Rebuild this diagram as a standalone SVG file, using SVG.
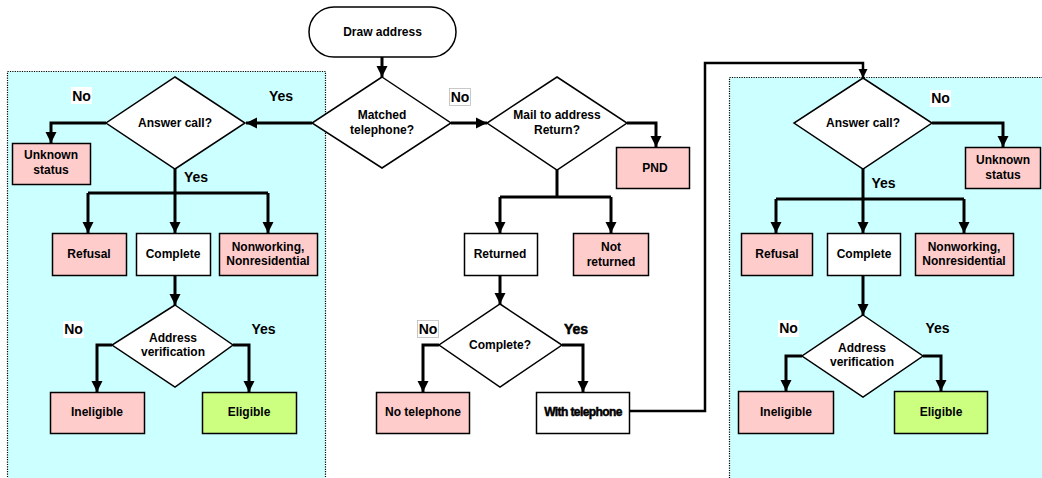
<svg xmlns="http://www.w3.org/2000/svg" width="1042" height="478" viewBox="0 0 1042 478">
<defs>
<marker id="arr" viewBox="0 0 10 10" refX="10" refY="5" markerWidth="3.8" markerHeight="3.8" orient="auto" markerUnits="strokeWidth">
<path d="M0,0 L10,5 L0,10 z" fill="#000"/>
</marker>
<style>
.panel{fill:#ccffff;stroke:#000;stroke-width:1.2;stroke-dasharray:1.2 1.2}
.box{stroke:#000;stroke-width:1.5}
.pink{fill:#ffcccc}
.white{fill:#fff}
.green{fill:#ccff80}
.dia{fill:#fff;stroke:#000;stroke-width:1.5}
.t{font-family:"Liberation Sans",Arial,sans-serif;font-size:12px;font-weight:bold;fill:#000;text-anchor:middle}
.lbl{font-family:"Liberation Sans",Arial,sans-serif;font-size:14px;font-weight:bold;fill:#000;text-anchor:middle}
.c{fill:none;stroke:#000;stroke-width:3}
.ca{fill:none;stroke:#000;stroke-width:3;marker-end:url(#arr)}
.lblbg{fill:#fff}
.lblbox{fill:#fff;stroke:#bbb;stroke-width:0.8}
</style>
</defs>

<rect class="panel" x="7.5" y="71.5" width="318" height="420"/>
<rect class="panel" x="729.5" y="77.5" width="330" height="420"/>

<g id="connectors">
<line class="ca" x1="382" y1="57" x2="382" y2="77"/>
<line class="ca" x1="312" y1="123" x2="246" y2="123"/>
<line class="ca" x1="451" y1="123" x2="487" y2="123"/>
<polyline class="ca" points="106,123 51,123 51,143"/>
<line class="c" x1="175" y1="169" x2="175" y2="193"/>
<polyline class="ca" points="88,193 88,233"/>
<line class="c" x1="88" y1="193" x2="268" y2="193"/>
<line class="ca" x1="175" y1="193" x2="175" y2="233"/>
<line class="ca" x1="268" y1="193" x2="268" y2="233"/>
<line class="ca" x1="175" y1="275" x2="175" y2="305"/>
<polyline class="ca" points="112,345 97,345 97,392"/>
<polyline class="ca" points="233,345 249,345 249,392"/>

<polyline class="ca" points="627,123 656,123 656,147"/>
<line class="c" x1="557" y1="170" x2="557" y2="197"/>
<line class="c" x1="500" y1="197" x2="611" y2="197"/>
<line class="ca" x1="500" y1="197" x2="500" y2="233"/>
<line class="ca" x1="611" y1="197" x2="611" y2="233"/>
<line class="ca" x1="500" y1="276" x2="500" y2="304"/>
<polyline class="ca" points="439,345 423,345 423,392"/>
<polyline class="ca" points="562,345 583,345 583,392"/>
<polyline class="ca" points="629,411 705,411 705,63 863,63 863,78" style="stroke-width:2.5"/>

<polyline class="ca" points="932,123 1003,123 1003,147"/>
<line class="c" x1="863" y1="169" x2="863" y2="199"/>
<line class="c" x1="776" y1="199" x2="964" y2="199"/>
<line class="ca" x1="776" y1="199" x2="776" y2="233"/>
<line class="ca" x1="863" y1="199" x2="863" y2="233"/>
<line class="ca" x1="964" y1="199" x2="964" y2="233"/>
<line class="ca" x1="863" y1="275" x2="863" y2="315"/>
<polyline class="ca" points="802,356 786,356 786,391"/>
<polyline class="ca" points="923,356 941,356 941,391"/>
</g>

<g id="draw-address">
<rect x="309" y="7" width="147" height="50" rx="25" ry="25" fill="#fff" stroke="#000" stroke-width="1.5"/>
<text class="t" x="382.5" y="36">Draw address</text>
</g>
<g id="matched-telephone">
<polygon class="dia" points="382,77 451,123 382,168 312,123"/>
<text class="t" x="382" y="119">Matched</text>
<text class="t" x="382" y="134">telephone?</text>
</g>
<g id="mail-return">
<polygon class="dia" points="557,77 627,123 557,170 487,123"/>
<text class="t" x="557" y="119">Mail to address</text>
<text class="t" x="557" y="134">Return?</text>
</g>
<g id="pnd">
<rect class="box pink" x="616.5" y="147.5" width="73" height="41"/>
<text class="t" x="655" y="172">PND</text>
</g>
<g id="returned">
<rect class="box white" x="464.5" y="233.5" width="73" height="42"/>
<text class="t" x="500" y="258">Returned</text>
</g>
<g id="not-returned">
<rect class="box pink" x="573.5" y="233.5" width="75" height="42"/>
<text class="t" x="611" y="251">Not</text>
<text class="t" x="611" y="266">returned</text>
</g>
<g id="complete-q">
<polygon class="dia" points="500,304 562,345 500,387 439,345"/>
<text class="t" x="500" y="349">Complete?</text>
</g>
<g id="no-telephone">
<rect class="box pink" x="376.5" y="392.5" width="93" height="41"/>
<text class="t" x="423" y="416">No telephone</text>
</g>
<g id="with-telephone">
<rect class="box white" x="536.5" y="392.5" width="93" height="41"/>
<text class="t" x="583" y="416" style="letter-spacing:-0.6px;stroke:#000;stroke-width:0.5">With telephone</text>
</g>

<g id="l-answer">
<polygon class="dia" points="175,77 245,123 175,169 106,123"/>
<text class="t" x="175" y="127">Answer call?</text>
</g>
<g id="l-unknown">
<rect class="box pink" x="12.5" y="143.5" width="78" height="41"/>
<text class="t" x="51" y="159">Unknown</text>
<text class="t" x="51" y="174">status</text>
</g>
<g id="l-refusal">
<rect class="box pink" x="52.5" y="233.5" width="74" height="42"/>
<text class="t" x="89" y="258">Refusal</text>
</g>
<g id="l-complete">
<rect class="box white" x="136.5" y="233.5" width="74" height="42"/>
<text class="t" x="173" y="258">Complete</text>
</g>
<g id="l-nonworking">
<rect class="box pink" x="219.5" y="233.5" width="98" height="42"/>
<text class="t" x="268" y="251">Nonworking,</text>
<text class="t" x="268" y="265">Nonresidential</text>
</g>
<g id="l-verify">
<polygon class="dia" points="175,305 233,345 175,387 112,345"/>
<text class="t" x="173" y="342">Address</text>
<text class="t" x="173" y="356">verification</text>
</g>
<g id="l-ineligible">
<rect class="box pink" x="50.5" y="392.5" width="94" height="41"/>
<text class="t" x="97" y="416">Ineligible</text>
</g>
<g id="l-eligible">
<rect class="box green" x="202.5" y="392.5" width="94" height="41"/>
<text class="t" x="249" y="416">Eligible</text>
</g>

<g id="r-answer">
<polygon class="dia" points="863,78 932,123 863,169 794,123"/>
<text class="t" x="863" y="127">Answer call?</text>
</g>
<g id="r-unknown">
<rect class="box pink" x="965.5" y="147.5" width="75" height="41"/>
<text class="t" x="1003" y="164">Unknown</text>
<text class="t" x="1003" y="179">status</text>
</g>
<g id="r-refusal">
<rect class="box pink" x="741.5" y="233.5" width="71" height="42"/>
<text class="t" x="777" y="258">Refusal</text>
</g>
<g id="r-complete">
<rect class="box white" x="827.5" y="233.5" width="73" height="42"/>
<text class="t" x="864" y="258">Complete</text>
</g>
<g id="r-nonworking">
<rect class="box pink" x="915.5" y="233.5" width="98" height="42"/>
<text class="t" x="964" y="251">Nonworking,</text>
<text class="t" x="964" y="265">Nonresidential</text>
</g>
<g id="r-verify">
<polygon class="dia" points="863,315 923,356 863,397 802,356"/>
<text class="t" x="862" y="352">Address</text>
<text class="t" x="862" y="366">verification</text>
</g>
<g id="r-ineligible">
<rect class="box pink" x="738.5" y="391.5" width="95" height="42"/>
<text class="t" x="786" y="416">Ineligible</text>
</g>
<g id="r-eligible">
<rect class="box green" x="894.5" y="391.5" width="93" height="42"/>
<text class="t" x="941" y="416">Eligible</text>
</g>

<g id="labels">
<rect class="lblbg" x="71" y="87" width="21" height="17"/>
<text class="lbl" x="81.5" y="101">No</text>
<text class="lbl" x="281" y="101">Yes</text>
<text class="lbl" x="196" y="182">Yes</text>
<rect class="lblbg" x="63" y="321" width="21" height="17"/>
<text class="lbl" x="73.5" y="334">No</text>
<text class="lbl" x="263.5" y="334">Yes</text>
<rect class="lblbox" x="449.5" y="88.5" width="21" height="17"/>
<text class="lbl" x="460" y="102">No</text>
<rect class="lblbox" x="417.5" y="320.5" width="21" height="17"/>
<text class="lbl" x="428" y="334">No</text>
<text class="lbl" x="576" y="334" style="stroke:#000;stroke-width:0.5">Yes</text>
<rect class="lblbg" x="930" y="90" width="21" height="17"/>
<text class="lbl" x="940.5" y="103">No</text>
<text class="lbl" x="883.5" y="188">Yes</text>
<rect class="lblbg" x="778" y="320" width="21" height="17"/>
<text class="lbl" x="788.5" y="333">No</text>
<text class="lbl" x="937.5" y="333">Yes</text>
</g>
</svg>
